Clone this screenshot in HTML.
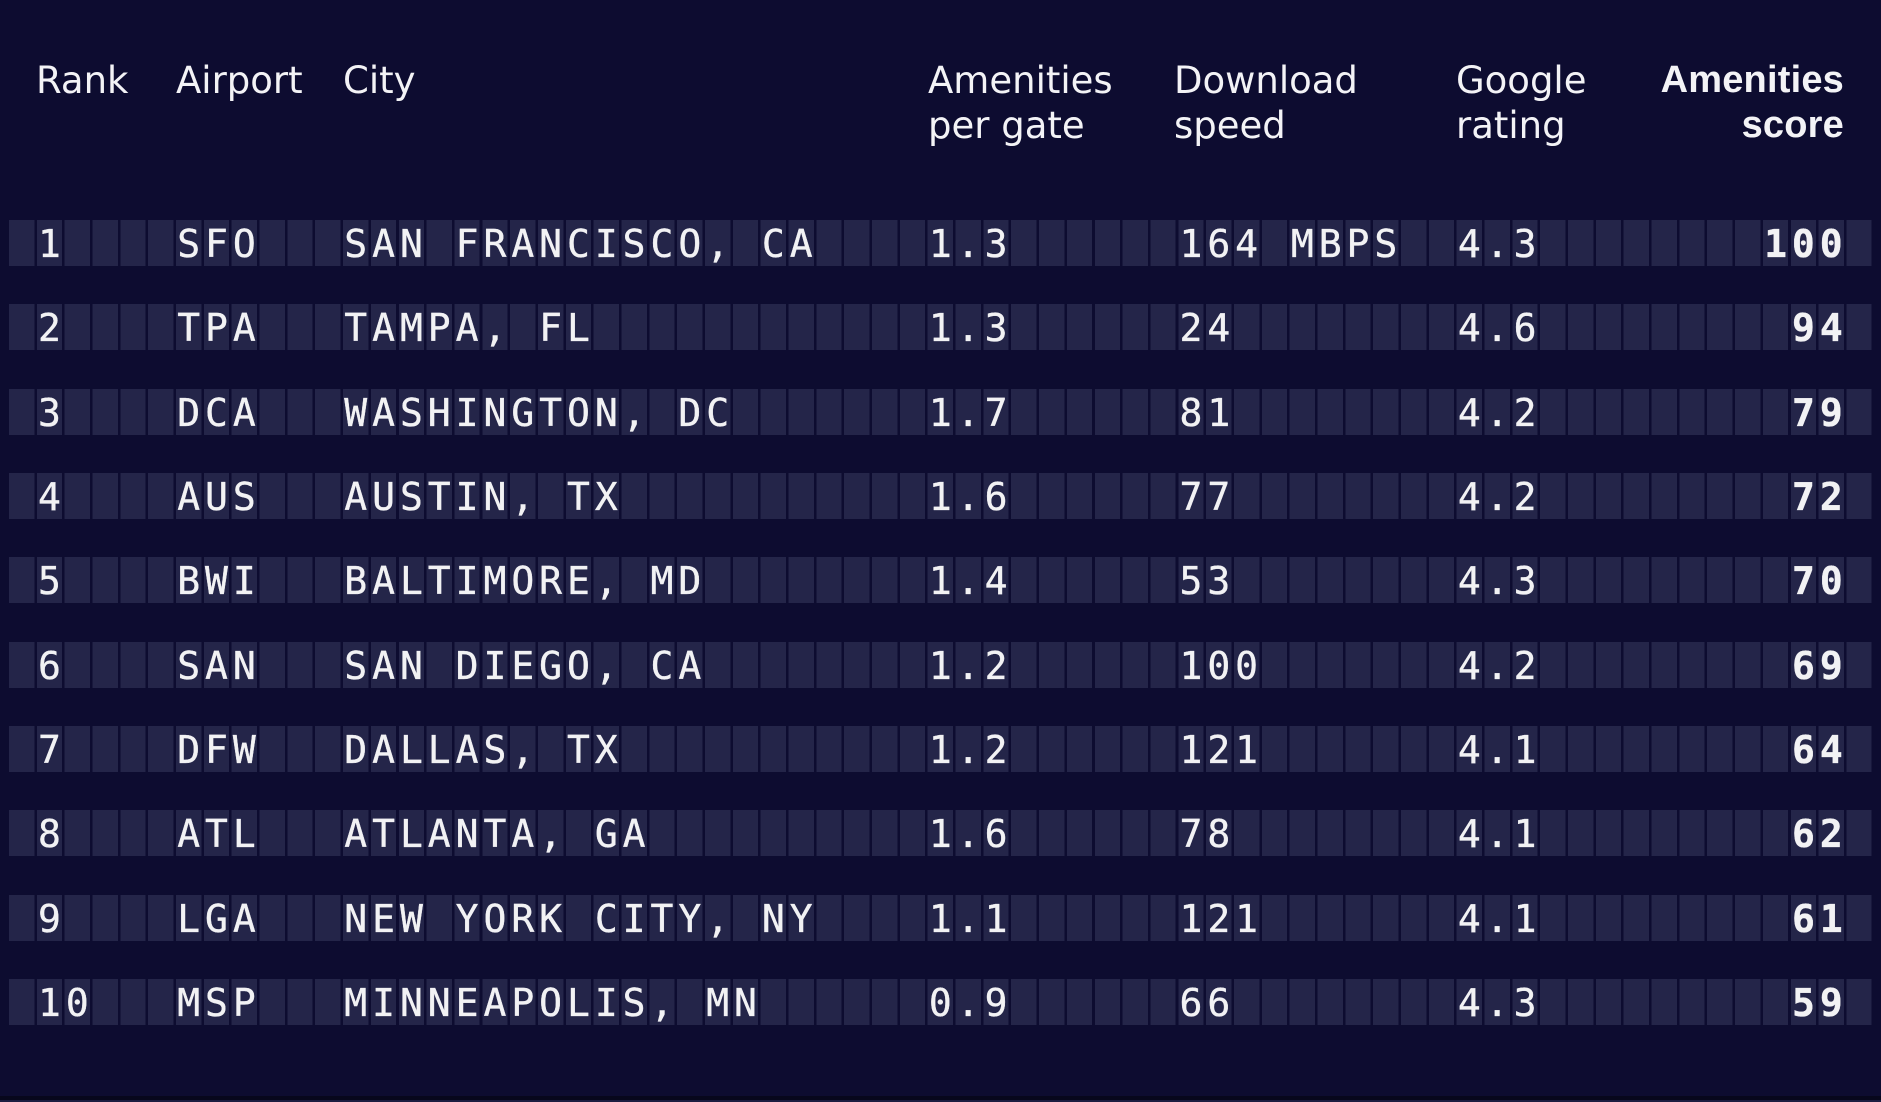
<!DOCTYPE html>
<html>
<head>
<meta charset="utf-8">
<style>
  html,body{margin:0;padding:0;}
  body{width:1881px;height:1102px;background:#0d0c30;position:relative;overflow:hidden;}
  .h{position:absolute;font-family:"DejaVu Sans","Liberation Sans",sans-serif;font-size:37px;line-height:44.5px;color:#f3f3f6;top:59px;white-space:nowrap;}
  .hb{font-family:"Liberation Sans","DejaVu Sans",sans-serif;font-size:38px;font-weight:bold;text-align:right;letter-spacing:0.2px;top:58px;}
  .row{position:absolute;left:9px;width:1863px;height:46px;
    background:repeating-linear-gradient(to right,#242549 0px,#242549 25.3px,#0d0c30 25.3px,#0d0c30 27.84px);}
  .t{position:absolute;top:1px;line-height:46px;font-family:"DejaVu Sans Mono","Liberation Mono",monospace;font-size:38px;letter-spacing:4.96px;color:#f2f2f4;white-space:pre;-webkit-text-stroke:0.35px #f2f2f4;}
  .b{font-weight:bold;}
  .bot{position:absolute;left:0;top:1096px;width:1881px;height:4px;background:#07071c;}
  .bot2{position:absolute;left:0;top:1100px;width:1881px;height:2px;background:#1c1c40;}
</style>
</head>
<body>
<div class="h" style="left:36px;">Rank</div>
<div class="h" style="left:176px;">Airport</div>
<div class="h" style="left:343px;">City</div>
<div class="h" style="left:928px;">Amenities<br>per gate</div>
<div class="h" style="left:1174px;">Download<br>speed</div>
<div class="h" style="left:1456px;">Google<br>rating</div>
<div class="h hb" style="right:37px;">Amenities<br>score</div>

<div class="row" style="top:220px;">
  <span class="t" style="left:29px;">1</span>
  <span class="t" style="left:168.2px;">SFO</span>
  <span class="t" style="left:335.3px;">SAN FRANCISCO, CA</span>
  <span class="t" style="left:919.9px;">1.3</span>
  <span class="t" style="left:1170.5px;">164 MBPS</span>
  <span class="t" style="left:1448.9px;">4.3</span>
  <span class="t b" style="left:1755.1px;">100</span>
</div>
<div class="row" style="top:304.33px;">
  <span class="t" style="left:29px;">2</span>
  <span class="t" style="left:168.2px;">TPA</span>
  <span class="t" style="left:335.3px;">TAMPA, FL</span>
  <span class="t" style="left:919.9px;">1.3</span>
  <span class="t" style="left:1170.5px;">24</span>
  <span class="t" style="left:1448.9px;">4.6</span>
  <span class="t b" style="left:1783px;">94</span>
</div>
<div class="row" style="top:388.66px;">
  <span class="t" style="left:29px;">3</span>
  <span class="t" style="left:168.2px;">DCA</span>
  <span class="t" style="left:335.3px;">WASHINGTON, DC</span>
  <span class="t" style="left:919.9px;">1.7</span>
  <span class="t" style="left:1170.5px;">81</span>
  <span class="t" style="left:1448.9px;">4.2</span>
  <span class="t b" style="left:1783px;">79</span>
</div>
<div class="row" style="top:473px;">
  <span class="t" style="left:29px;">4</span>
  <span class="t" style="left:168.2px;">AUS</span>
  <span class="t" style="left:335.3px;">AUSTIN, TX</span>
  <span class="t" style="left:919.9px;">1.6</span>
  <span class="t" style="left:1170.5px;">77</span>
  <span class="t" style="left:1448.9px;">4.2</span>
  <span class="t b" style="left:1783px;">72</span>
</div>
<div class="row" style="top:557.33px;">
  <span class="t" style="left:29px;">5</span>
  <span class="t" style="left:168.2px;">BWI</span>
  <span class="t" style="left:335.3px;">BALTIMORE, MD</span>
  <span class="t" style="left:919.9px;">1.4</span>
  <span class="t" style="left:1170.5px;">53</span>
  <span class="t" style="left:1448.9px;">4.3</span>
  <span class="t b" style="left:1783px;">70</span>
</div>
<div class="row" style="top:641.66px;">
  <span class="t" style="left:29px;">6</span>
  <span class="t" style="left:168.2px;">SAN</span>
  <span class="t" style="left:335.3px;">SAN DIEGO, CA</span>
  <span class="t" style="left:919.9px;">1.2</span>
  <span class="t" style="left:1170.5px;">100</span>
  <span class="t" style="left:1448.9px;">4.2</span>
  <span class="t b" style="left:1783px;">69</span>
</div>
<div class="row" style="top:726px;">
  <span class="t" style="left:29px;">7</span>
  <span class="t" style="left:168.2px;">DFW</span>
  <span class="t" style="left:335.3px;">DALLAS, TX</span>
  <span class="t" style="left:919.9px;">1.2</span>
  <span class="t" style="left:1170.5px;">121</span>
  <span class="t" style="left:1448.9px;">4.1</span>
  <span class="t b" style="left:1783px;">64</span>
</div>
<div class="row" style="top:810.33px;">
  <span class="t" style="left:29px;">8</span>
  <span class="t" style="left:168.2px;">ATL</span>
  <span class="t" style="left:335.3px;">ATLANTA, GA</span>
  <span class="t" style="left:919.9px;">1.6</span>
  <span class="t" style="left:1170.5px;">78</span>
  <span class="t" style="left:1448.9px;">4.1</span>
  <span class="t b" style="left:1783px;">62</span>
</div>
<div class="row" style="top:894.66px;">
  <span class="t" style="left:29px;">9</span>
  <span class="t" style="left:168.2px;">LGA</span>
  <span class="t" style="left:335.3px;">NEW YORK CITY, NY</span>
  <span class="t" style="left:919.9px;">1.1</span>
  <span class="t" style="left:1170.5px;">121</span>
  <span class="t" style="left:1448.9px;">4.1</span>
  <span class="t b" style="left:1783px;">61</span>
</div>
<div class="row" style="top:979px;">
  <span class="t" style="left:29px;">10</span>
  <span class="t" style="left:168.2px;">MSP</span>
  <span class="t" style="left:335.3px;">MINNEAPOLIS, MN</span>
  <span class="t" style="left:919.9px;">0.9</span>
  <span class="t" style="left:1170.5px;">66</span>
  <span class="t" style="left:1448.9px;">4.3</span>
  <span class="t b" style="left:1783px;">59</span>
</div>

<div class="bot"></div>
<div class="bot2"></div>
</body>
</html>
